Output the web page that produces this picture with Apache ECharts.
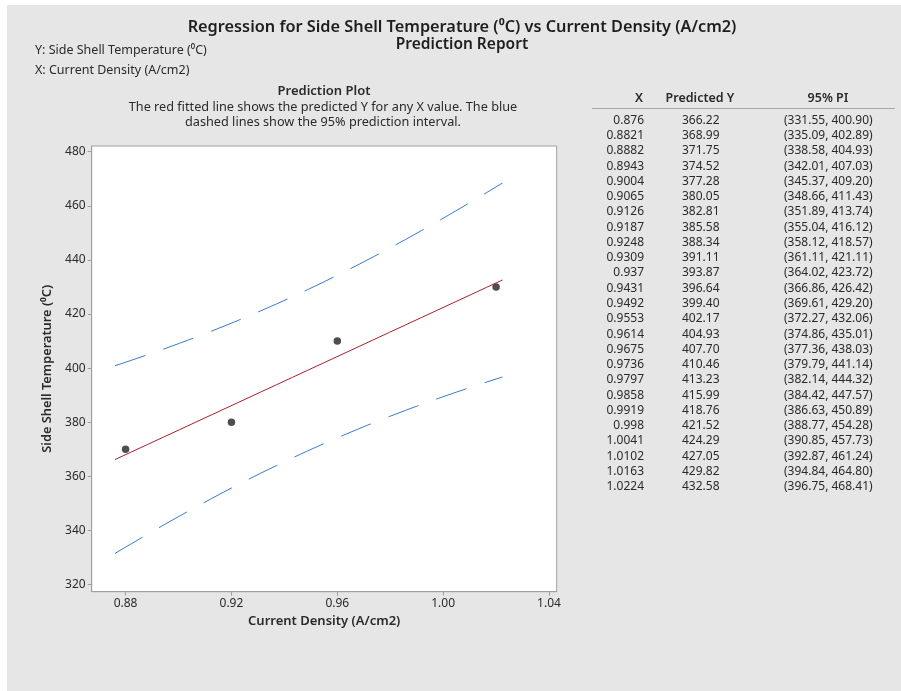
<!DOCTYPE html>
<html>
<head>
<meta charset="utf-8">
<script src="https://cdn.jsdelivr.net/npm/echarts@6/dist/echarts.min.js"></script>
<style>
  html, body { margin: 0; padding: 0; background: #ffffff; }
  #frame { position: absolute; left: 7px; top: 5px; right: 0; bottom: 0; background: #e6e6e6; }
  #chart { position: absolute; left: 0; top: 0; width: 901px; height: 691px; }
</style>
</head>
<body>
<div id="frame"></div>
<div id="chart"></div>
<script>
// Observed data
const obsX = [0.88, 0.92, 0.96, 1.02];
const obsY = [370, 380, 410, 430];

// Prediction table: X, fitted Y and 95% prediction interval
const predX = [0.876, 0.8821, 0.8882, 0.8943, 0.9004, 0.9065, 0.9126, 0.9187, 0.9248, 0.9309,
  0.937, 0.9431, 0.9492, 0.9553, 0.9614, 0.9675, 0.9736, 0.9797, 0.9858, 0.9919,
  0.998, 1.0041, 1.0102, 1.0163, 1.0224];
const predY = [366.22, 368.99, 371.75, 374.52, 377.28, 380.05, 382.81, 385.58, 388.34, 391.11,
  393.87, 396.64, 399.40, 402.17, 404.93, 407.70, 410.46, 413.23, 415.99, 418.76,
  421.52, 424.29, 427.05, 429.82, 432.58];
const piLow = [331.55, 335.09, 338.58, 342.01, 345.37, 348.66, 351.89, 355.04, 358.12, 361.11,
  364.02, 366.86, 369.61, 372.27, 374.86, 377.36, 379.79, 382.14, 384.42, 386.63,
  388.77, 390.85, 392.87, 394.84, 396.75];
const piHigh = [400.90, 402.89, 404.93, 407.03, 409.20, 411.43, 413.74, 416.12, 418.57, 421.11,
  423.72, 426.42, 429.20, 432.06, 435.01, 438.03, 441.14, 444.32, 447.57, 450.89,
  454.28, 457.73, 461.24, 464.80, 468.41];

// Axis tick values
const xTicks = [0.88, 0.92, 0.96, 1.00, 1.04];
const yTicks = [320, 340, 360, 380, 400, 420, 440, 460, 480];

const FONT = '"Noto Sans", "Open Sans", sans-serif';
const TXT = '#2a2a2a';

const pairs = (xs, ys) => xs.map((x, i) => [x, ys[i]]);

// Prediction table drawn as text
const tableEls = [];
const colX = 644, colY = 682, colPI = 784, row0 = 120.3, rowH = 15.27;
tableEls.push(
  { type: 'text', x: 639, y: 98, style: { text: 'X', font: '600 12.5px ' + FONT, fill: TXT, align: 'center', verticalAlign: 'middle' } },
  { type: 'text', x: 700, y: 98, style: { text: 'Predicted Y', font: '600 12.5px ' + FONT, fill: TXT, align: 'center', verticalAlign: 'middle' } },
  { type: 'text', x: 828, y: 98, style: { text: '95% PI', font: '600 12.5px ' + FONT, fill: TXT, align: 'center', verticalAlign: 'middle' } },
  { type: 'line', shape: { x1: 592, y1: 108.5, x2: 895, y2: 108.5 }, style: { stroke: '#a8a8a8', lineWidth: 1 } }
);
predX.forEach((x, i) => {
  const y = row0 + i * rowH;
  tableEls.push(
    { type: 'text', x: colX, y: y, style: { text: String(x), font: '12px ' + FONT, fill: TXT, align: 'right', verticalAlign: 'middle' } },
    { type: 'text', x: colY, y: y, style: { text: predY[i].toFixed(2), font: '12px ' + FONT, fill: TXT, align: 'left', verticalAlign: 'middle' } },
    { type: 'text', x: colPI, y: y, style: { text: '(' + piLow[i].toFixed(2) + ', ' + piHigh[i].toFixed(2) + ')', font: '12px ' + FONT, fill: TXT, align: 'left', verticalAlign: 'middle' } }
  );
});

const headerEls = [
  { type: 'text', x: 462, y: 27, style: { text: 'Regression for Side Shell Temperature (\u2070C) vs Current Density (A/cm2)', font: '600 16.3px ' + FONT, fill: '#1e1e1e', align: 'center', verticalAlign: 'middle' } },
  { type: 'text', x: 462, y: 45, style: { text: 'Prediction Report', font: '600 15.5px ' + FONT, fill: '#1e1e1e', align: 'center', verticalAlign: 'middle' } },
  { type: 'text', x: 35, y: 50, style: { text: 'Y: Side Shell Temperature (\u2070C)', font: '12.5px ' + FONT, fill: TXT, align: 'left', verticalAlign: 'middle' } },
  { type: 'text', x: 35, y: 70, style: { text: 'X: Current Density (A/cm2)', font: '12.5px ' + FONT, fill: TXT, align: 'left', verticalAlign: 'middle' } },
  { type: 'text', x: 324, y: 91, style: { text: 'Prediction Plot', font: '600 13px ' + FONT, fill: TXT, align: 'center', verticalAlign: 'middle' } },
  { type: 'text', x: 323, y: 107, style: { text: 'The red fitted line shows the predicted Y for any X value. The blue', font: '12.7px ' + FONT, fill: TXT, align: 'center', verticalAlign: 'middle' } },
  { type: 'text', x: 323, y: 122, style: { text: 'dashed lines show the 95% prediction interval.', font: '12.7px ' + FONT, fill: TXT, align: 'center', verticalAlign: 'middle' } }
];

const chart = echarts.init(document.getElementById('chart'), null, { renderer: 'canvas' });
chart.setOption({
  animation: false,
  backgroundColor: 'transparent',
  textStyle: { fontFamily: FONT },
  grid: {
    left: 91.7, top: 146, right: 344.3, bottom: 99.3,
    show: true, backgroundColor: '#ffffff', borderColor: '#a0a0a0', borderWidth: 1
  },
  xAxis: {
    type: 'value', min: 0.8672, max: 1.0429,
    name: 'Current Density (A/cm2)', nameLocation: 'middle', nameGap: 21,
    nameTextStyle: { fontSize: 13, fontWeight: 600, color: TXT, fontFamily: FONT },
    axisLine: { show: true, onZero: false, lineStyle: { color: '#a0a0a0' } },
    axisTick: { show: true, length: 4, lineStyle: { color: '#a0a0a0' }, customValues: xTicks },
    axisLabel: { color: TXT, fontSize: 12, margin: 6, customValues: xTicks, formatter: v => v.toFixed(2) },
    splitLine: { show: false }
  },
  yAxis: {
    type: 'value', min: 317.4, max: 482.1,
    name: 'Side Shell Temperature (\u2070C)', nameLocation: 'middle', nameGap: 37,
    nameTextStyle: { fontSize: 12.8, fontWeight: 600, color: TXT, fontFamily: FONT },
    axisLine: { show: true, onZero: false, lineStyle: { color: '#a0a0a0' } },
    axisTick: { show: true, length: 4, lineStyle: { color: '#a0a0a0' }, customValues: yTicks },
    axisLabel: { color: TXT, fontSize: 12, margin: 6, customValues: yTicks, formatter: v => String(Math.round(v)) },
    splitLine: { show: false }
  },
  series: [
    {
      name: 'PI upper', type: 'line', data: pairs(predX, piHigh), showSymbol: false,
      lineStyle: { color: '#3a7bcc', width: 1, type: [32, 19] }, silent: true
    },
    {
      name: 'PI lower', type: 'line', data: pairs(predX, piLow), showSymbol: false,
      lineStyle: { color: '#3a7bcc', width: 1, type: [32, 19] }, silent: true
    },
    {
      name: 'Fit', type: 'line', data: pairs(predX, predY), showSymbol: false,
      lineStyle: { color: '#a8202c', width: 1 }, silent: true
    },
    {
      name: 'Observed', type: 'scatter', data: pairs(obsX, obsY),
      symbol: 'circle', symbolSize: 7.5, itemStyle: { color: '#222222' }, silent: true
    }
  ],
  graphic: headerEls.concat(tableEls)
});
</script>
</body>
</html>
